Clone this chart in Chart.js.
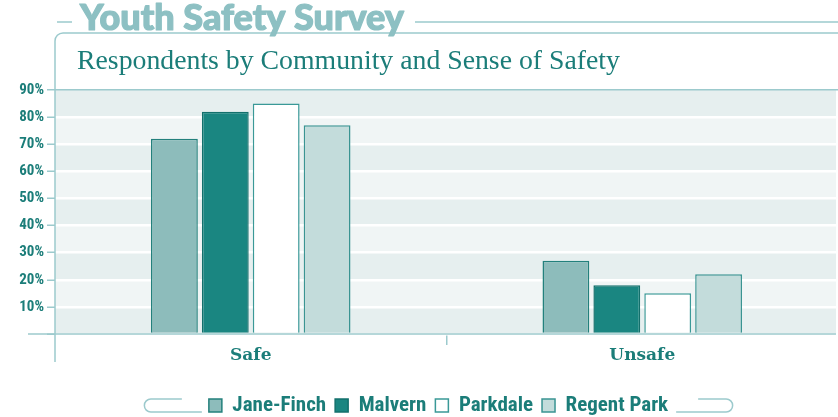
<!DOCTYPE html>
<html>
<head>
<meta charset="utf-8">
<script src="https://cdn.jsdelivr.net/npm/chart.js@4.4.1/dist/chart.umd.min.js"></script>
<style>
  html, body { margin: 0; padding: 0; background: #fff; }
  #wrap { width: 838px; height: 417px; }
</style>
</head>
<body>
<div id="wrap"><canvas id="plot"></canvas></div>
<script>
// data
const chartTitle = 'Youth Safety Survey';
const chartSubtitle = 'Respondents by Community and Sense of Safety';
const categories = ['Safe', 'Unsafe'];
const communities = ['Jane-Finch', 'Malvern', 'Parkdale', 'Regent Park'];
const janeFinch = [72, 27];
const malvern = [82, 18];
const parkdale = [85, 15];
const regentPark = [77, 22];
const yMax = 90;
const yStep = 10;

const teal = '#1b7d79';
const paleLine = '#9ccacd';

// fills / borders per community
const fills = ['#8dbcbb', '#1a8681', '#ffffff', '#c3dcdb'];
const borders = ['#23807c', '#13706c', '#3a9997', '#3a9492'];

const seriesValues = [janeFinch, malvern, parkdale, regentPark];

const datasets = communities.map((name, i) => ({
  label: name,
  data: seriesValues[i],
  backgroundColor: fills[i],
  borderColor: borders[i],
  borderWidth: 1.5,
  barPercentage: 0.92,
  categoryPercentage: 0.52
}));

// fit text to a width
function fitFont(ctx, text, weight, family, width) {
  ctx.font = weight + ' 40px ' + family;
  const w = ctx.measureText(text).width;
  return weight + ' ' + (40 * width / w).toFixed(2) + 'px ' + family;
}

const decor = {
  id: 'decor',
  afterLayout(chart) {
    // legend sits a little right of and below the default spot
    const lg = chart.legend;
    lg.left += 18; lg.right += 18;
    lg.top += 2; lg.bottom += 2;
  },
  beforeDraw(chart) {
    const {ctx, chartArea: a, scales: {y}} = chart;
    ctx.save();
    // alternating bands
    for (let v = 0; v < yMax; v += yStep) {
      const top = y.getPixelForValue(v + yStep);
      const bot = y.getPixelForValue(v);
      const idx = Math.round((yMax - v) / yStep);
      ctx.fillStyle = idx % 2 === 1 ? '#e6efef' : '#f0f5f5';
      ctx.fillRect(a.left, top, 836 - a.left, bot - top);
    }
    ctx.restore();
  },
  afterDraw(chart) {
    const {ctx, chartArea: a} = chart;
    ctx.save();
    ctx.strokeStyle = paleLine;
    ctx.lineWidth = 1.5;

    // baseline
    ctx.beginPath();
    ctx.moveTo(28, a.bottom);
    ctx.lineTo(836, a.bottom);
    ctx.stroke();

    // framing box: left axis line + rounded top
    ctx.beginPath();
    ctx.moveTo(a.left, 362);
    ctx.lineTo(a.left, 41);
    ctx.arcTo(a.left, 33, a.left + 8, 33, 8);
    ctx.lineTo(chart.width, 33);
    ctx.stroke();

    // title with rules
    ctx.beginPath();
    ctx.moveTo(57, 22); ctx.lineTo(72, 22);
    ctx.moveTo(415, 22); ctx.lineTo(chart.width, 22);
    ctx.stroke();
    ctx.fillStyle = '#8dc0c3';
    ctx.strokeStyle = '#8dc0c3';
    ctx.lineWidth = 1.2;
    ctx.lineJoin = 'round';
    ctx.font = fitFont(ctx, chartTitle, '900', 'Lato, "Open Sans", sans-serif', 324);
    ctx.textBaseline = 'alphabetic';
    ctx.textAlign = 'left';
    ctx.fillText(chartTitle, 80, 30);
    ctx.strokeText(chartTitle, 80, 30);

    // subtitle
    ctx.fillStyle = teal;
    ctx.font = fitFont(ctx, chartSubtitle, 'normal', '"Liberation Serif", serif', 543);
    ctx.fillText(chartSubtitle, 77, 69);

    // legend brackets
    ctx.strokeStyle = paleLine;
    ctx.lineWidth = 1.5;
    const boxes = chart.legend.legendHitBoxes;
    if (boxes && boxes.length) {
      const L = boxes[0].left;
      const last = boxes[boxes.length - 1];
      const R = last.left + last.width;
      const yTop = 399, yBot = 412, r = 6.5;
      ctx.beginPath();
      ctx.moveTo(L - 27, yTop);
      ctx.lineTo(L - 58, yTop);
      ctx.arc(L - 58, yTop + r, r, -Math.PI / 2, Math.PI / 2, true);
      ctx.lineTo(L - 7, yBot);
      ctx.moveTo(R + 30, yTop);
      ctx.lineTo(R + 58, yTop);
      ctx.arc(R + 58, yTop + r, r, -Math.PI / 2, Math.PI / 2, false);
      ctx.lineTo(R + 8, yBot);
      ctx.stroke();
    }
    ctx.restore();
  }
};

const config = {
  type: 'bar',
  data: { labels: categories, datasets: datasets },
  options: {
    responsive: true,
    maintainAspectRatio: false,
    animation: false,
    layout: { padding: { top: 90, left: 0, right: -3, bottom: -7 } },
    plugins: {
      title: { display: false },
      tooltip: { enabled: false },
      legend: {
        position: 'bottom',
        labels: {
          color: teal,
          boxWidth: 13,
          boxHeight: 13,
          padding: 9,
          font: { family: '"Roboto Condensed", Roboto, sans-serif', size: 21, weight: 'bold' }
        }
      }
    },
    scales: {
      x: {
        afterFit: s => { s.height = 50; },
        border: { display: false },
        grid: {
          offset: true,
          drawOnChartArea: false,
          tickLength: 11,
          color: c => c.index === 1 ? paleLine : 'rgba(0,0,0,0)',
          lineWidth: 1.5
        },
        ticks: {
          color: teal,
          padding: 0,
          font: { family: '"DejaVu Serif", serif', size: 17, weight: 'bold' }
        }
      },
      y: {
        min: 0,
        max: yMax,
        afterFit: s => { s.width = 55; },
        border: { display: false },
        grid: {
          color: c => c.tick && c.tick.value === yMax ? paleLine : '#ffffff',
          lineWidth: c => c.tick && c.tick.value === yMax ? 1.5 : 2.5,
          tickColor: paleLine,
          tickLength: 8,
          tickWidth: 1.5
        },
        ticks: {
          stepSize: yStep,
          padding: 3,
          color: teal,
          font: { family: '"Roboto Condensed", Roboto, sans-serif', size: 15, weight: 'bold' },
          callback: v => v === 0 ? '' : v + '%'
        }
      }
    }
  },
  plugins: [decor]
};

let ctx = document.getElementById('plot').getContext('2d');
let chart = new Chart(ctx, config);
</script>
</body>
</html>
